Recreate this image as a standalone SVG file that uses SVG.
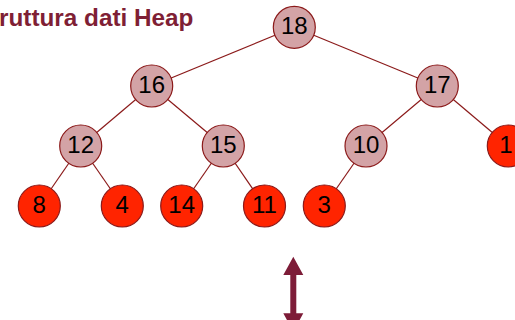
<svg xmlns="http://www.w3.org/2000/svg" width="515" height="320" viewBox="0 0 515 320">
<style>
.e{stroke:#8b1a1a;stroke-width:1.2;fill:none}
.in{fill:#d3a3a6;stroke:#8b1a1a;stroke-width:1.2}
.lf{fill:#ff2400;stroke:#8b1a1a;stroke-width:1.2}
.t{font-family:"Liberation Sans",Arial,sans-serif;font-size:24px;fill:#000;text-anchor:middle}
.title{font-family:"Liberation Sans",Arial,sans-serif;font-size:24.3px;font-weight:bold;fill:#7f1f35}
</style>
<rect width="515" height="320" fill="#fff"/>
<text class="title" x="-1" y="26">ruttura dati Heap</text>
<g id="connectors">
<line class="e" x1="294.3" y1="27.3" x2="151.7" y2="86"/>
<line class="e" x1="294.3" y1="27.3" x2="437.3" y2="86"/>
<line class="e" x1="151.7" y1="86" x2="80.7" y2="146"/>
<line class="e" x1="151.7" y1="86" x2="223.3" y2="146"/>
<line class="e" x1="437.3" y1="86" x2="366" y2="146"/>
<line class="e" x1="437.3" y1="86" x2="508.3" y2="146"/>
<line class="e" x1="80.7" y1="146" x2="39.3" y2="206"/>
<line class="e" x1="80.7" y1="146" x2="122.3" y2="206"/>
<line class="e" x1="223.3" y1="146" x2="181.7" y2="206"/>
<line class="e" x1="223.3" y1="146" x2="264.5" y2="206"/>
<line class="e" x1="366" y1="146" x2="324.3" y2="206"/>
</g>
<g id="n18"><circle class="in" cx="294.3" cy="27.3" r="21"/><text class="t" x="294.3" y="33.8">18</text></g>
<g id="n16"><circle class="in" cx="151.7" cy="86" r="21"/><text class="t" x="151.7" y="92.5">16</text></g>
<g id="n17"><circle class="in" cx="437.3" cy="86" r="21"/><text class="t" x="437.3" y="92.5">17</text></g>
<g id="n12"><circle class="in" cx="80.7" cy="146" r="21"/><text class="t" x="80.7" y="152.5">12</text></g>
<g id="n15"><circle class="in" cx="223.3" cy="146" r="21"/><text class="t" x="223.3" y="152.5">15</text></g>
<g id="n10"><circle class="in" cx="366" cy="146" r="21"/><text class="t" x="366" y="152.5">10</text></g>
<g id="n1"><circle class="lf" cx="508.3" cy="146" r="21"/><text class="t" x="506" y="152.5">1</text></g>
<g id="n8"><circle class="lf" cx="39.3" cy="206" r="21"/><text class="t" x="39.3" y="212.5">8</text></g>
<g id="n4"><circle class="lf" cx="122.3" cy="206" r="21"/><text class="t" x="122.3" y="212.5">4</text></g>
<g id="n14"><circle class="lf" cx="181.7" cy="206" r="21"/><text class="t" x="181.7" y="212.5">14</text></g>
<g id="n11"><circle class="lf" cx="264.5" cy="206" r="21"/><text class="t" x="264.5" y="212.5">11</text></g>
<g id="n3"><circle class="lf" cx="324.3" cy="206" r="21"/><text class="t" x="324.3" y="212.5">3</text></g>
<g id="arrow">
<polygon fill="#7d1c38" points="293.3,256.7 303.3,275 296.3,275 296.3,313.3 303.3,313.3 293.3,331.6 283.3,313.3 290.3,313.3 290.3,275 283.3,275"/>
</g>
</svg>
